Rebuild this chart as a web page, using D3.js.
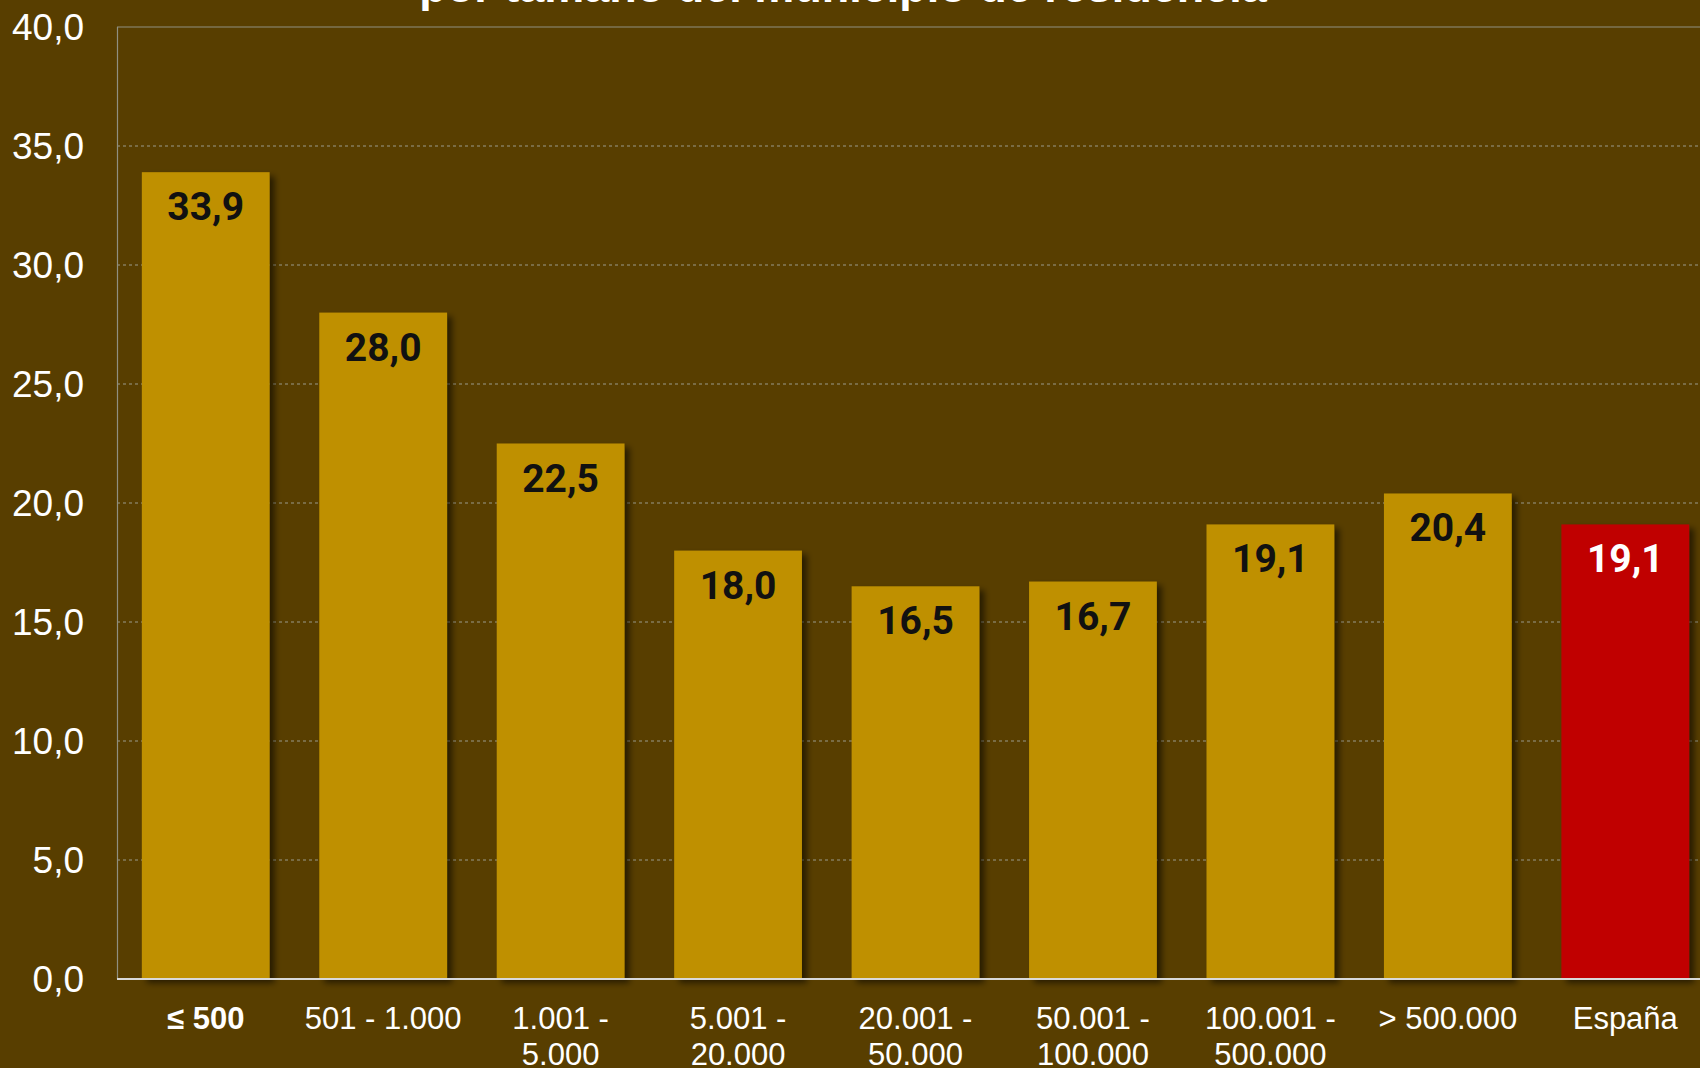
<!DOCTYPE html>
<html>
<head>
<meta charset="utf-8">
<script src="https://cdn.jsdelivr.net/npm/d3@7"></script>
<style>
html, body { margin: 0; padding: 0; background: #583E00; overflow: hidden; }
svg { display: block; }
</style>
</head>
<body>
<svg id="chart" width="1700" height="1068"></svg>
<script>
const categories = [
  ["≤ 500"],
  ["501 - 1.000"],
  ["1.001 -", "5.000"],
  ["5.001 -", "20.000"],
  ["20.001 -", "50.000"],
  ["50.001 -", "100.000"],
  ["100.001 -", "500.000"],
  ["> 500.000"],
  ["España"]
];
const values = [33.9, 28.0, 22.5, 18.0, 16.5, 16.7, 19.1, 20.4, 19.1];
const yTicks = [0, 5, 10, 15, 20, 25, 30, 35, 40];
const titleText = "por tamaño del municipio de residencia";

const W = 1700, H = 1068;
const bg = "#583E00", gold = "#BF9000", red = "#C00000";

const svg = d3.select("#chart");
svg.append("rect").attr("width", W).attr("height", H).attr("fill", bg);

const defs = svg.append("defs");
const f = defs.append("filter").attr("id", "shadow")
  .attr("x", "-10%").attr("y", "-10%").attr("width", "130%").attr("height", "130%");
f.append("feDropShadow").attr("dx", 5).attr("dy", 4).attr("stdDeviation", 3)
  .attr("flood-color", "#000").attr("flood-opacity", 0.55);

const keys = categories.map((c, i) => i);
const x = d3.scaleBand().domain(keys).range([117, 1714]).paddingInner(0.28).paddingOuter(0.14);
const y = d3.scaleLinear().domain([0, 40]).range([979, 27]);

// gridlines
svg.append("g").selectAll("line").data(yTicks.filter(t => t > 0 && t < 40)).join("line")
  .attr("x1", 117).attr("x2", 1714)
  .attr("y1", d => y(d)).attr("y2", d => y(d))
  .attr("stroke", "#9a9a8a").attr("stroke-width", 1).attr("stroke-dasharray", "3,3");
// top border
svg.append("line").attr("x1", 117).attr("x2", 1714).attr("y1", y(40)).attr("y2", y(40))
  .attr("stroke", "#8f8f80").attr("stroke-width", 1.2);
// left axis line
svg.append("line").attr("x1", 117.5).attr("x2", 117.5).attr("y1", y(40)).attr("y2", y(0))
  .attr("stroke", "#8f8f80").attr("stroke-width", 1.2);

// y axis labels
const yAxis = d3.axisLeft(y).tickValues(yTicks).tickSize(0).tickPadding(0)
  .tickFormat(d => d3.format(".1f")(d).replace(".", ","));
const gy = svg.append("g").attr("transform", "translate(84,0)").call(yAxis);
gy.select(".domain").remove();
gy.selectAll("text").attr("fill", "#fff").attr("font-family", "Liberation Sans, Arial, sans-serif")
  .attr("font-size", 37).attr("dy", "0.35em");

// bars
svg.append("g").selectAll("rect").data(values).join("rect")
  .attr("x", (d, i) => x(i)).attr("width", x.bandwidth())
  .attr("y", d => y(d)).attr("height", d => y(0) - y(d))
  .attr("fill", (d, i) => i === values.length - 1 ? red : gold)
  .attr("filter", "url(#shadow)");

// zero line
svg.append("line").attr("x1", 117).attr("x2", 1714).attr("y1", y(0)).attr("y2", y(0))
  .attr("stroke", "#d9d9d9").attr("stroke-width", 2);

// value labels
svg.append("g").selectAll("text").data(values).join("text")
  .attr("x", (d, i) => x(i) + x.bandwidth() / 2)
  .attr("y", d => y(d) + 48)
  .attr("text-anchor", "middle")
  .attr("font-family", "Roboto, sans-serif").attr("font-weight", "bold").attr("font-size", 39)
  .attr("fill", (d, i) => i === values.length - 1 ? "#fff" : "#111")
  .text(d => d3.format(".1f")(d).replace(".", ","));

// category labels
const cg = svg.append("g").selectAll("text").data(categories).join("text")
  .attr("x", (d, i) => x(i) + x.bandwidth() / 2)
  .attr("y", 1029)
  .attr("text-anchor", "middle")
  .attr("font-family", "Liberation Sans, Arial, sans-serif").attr("font-size", 31)
  .attr("font-weight", (d, i) => i === 0 ? "bold" : "normal")
  .attr("fill", "#fff");
cg.each(function(d) {
  const t = d3.select(this);
  d.forEach((line, j) => {
    t.append("tspan").attr("x", t.attr("x")).attr("dy", j === 0 ? 0 : 36).text(line);
  });
});

// title (partially cut at top)
svg.append("text").attr("x", 843).attr("y", 2).attr("text-anchor", "middle")
  .attr("font-family", "Liberation Sans, Arial, sans-serif").attr("font-weight", "bold")
  .attr("font-size", 45).attr("fill", "#fff").text(titleText);
</script>
</body>
</html>
